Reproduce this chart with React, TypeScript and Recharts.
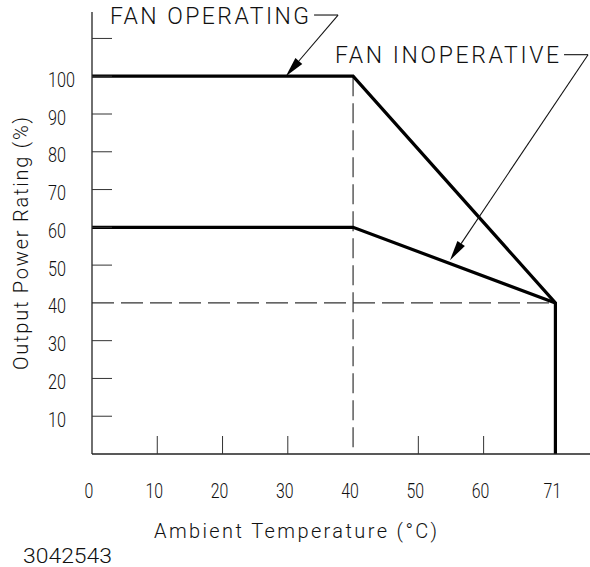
import { Label, Line, LineChart, ReferenceLine, XAxis, YAxis } from "recharts";

// derating curve
const xTicks = [0, 10, 20, 30, 40, 50, 60, 71];
const yTicks = [10, 20, 30, 40, 50, 60, 70, 80, 90, 100, 110];
const yLabelMax = 100;

const operatingTemp = [0, 40, 71, 71];
const operatingPower = [100, 100, 40, 0];
const inoperativeTemp = [0, 40, 71];
const inoperativePower = [60, 60, 40];

const kneeTemp = 40;
const derateLevel = 40;
const maxTemp = 71;

const noteLabels = ["FAN OPERATING", "FAN INOPERATIVE"];
const noteWidths = [199, 224];
const noteElbows = [
  { x: 37.7, y: 116.2 },
  { x: 76, y: 105.7 },
];
const noteTips = [
  { x: 29.7, y: 100 },
  { x: 54.85, y: 51.3 },
];

const operating = operatingTemp.map((t, i) => ({ t, p: operatingPower[i] }));
const inoperative = inoperativeTemp.map((t, i) => ({ t, p: inoperativePower[i] }));

const FONT = "Roboto, 'Liberation Sans', Arial, sans-serif";
const WEIGHT = 300;
const INK = "#111";

function XTick({ x, y, payload }: any) {
  const v = payload.value;
  const s = String(v);
  return (
    <g>
      {v !== 0 && v !== kneeTemp && v !== maxTemp && (
        <line x1={x} y1={y} x2={x} y2={y - 18} stroke="#333" strokeWidth={1} />
      )}
      <text
        x={x - 3}
        y={y + 43.5}
        textAnchor="middle"
        fontSize={20}
        fontFamily={FONT}
        fontWeight={WEIGHT}
        fill={INK}
        textLength={s.length * 8.8}
        lengthAdjust="spacingAndGlyphs"
      >
        {s}
      </text>
    </g>
  );
}

function YTick({ x, y, payload }: any) {
  const v = payload.value;
  const s = String(v);
  return (
    <g>
      {v !== derateLevel && <line x1={x} y1={y} x2={x + 20} y2={y} stroke="#333" strokeWidth={1} />}
      {v <= yLabelMax && (
        <text
          x={x - 44}
          y={y + 10.5}
          textAnchor="start"
          fontSize={20}
          fontFamily={FONT}
          fontWeight={WEIGHT}
          fill={INK}
          textLength={s.length * 9}
          lengthAdjust="spacingAndGlyphs"
        >
          {s}
        </text>
      )}
    </g>
  );
}

function XTitle() {
  return (
    <g fontFamily={FONT} fontWeight={WEIGHT} fill={INK} fontSize={20}>
      <text x={154} y={538} textLength={283} lengthAdjust="spacing">
        Ambient Temperature (°C)
      </text>
      <text x={23} y={563} textLength={89} lengthAdjust="spacingAndGlyphs">
        3042543
      </text>
    </g>
  );
}

function YTitle() {
  return (
    <text
      transform="translate(28,243.5) rotate(-90)"
      textAnchor="middle"
      fontFamily={FONT}
      fontWeight={WEIGHT}
      fill={INK}
      fontSize={20}
      textLength={253}
      lengthAdjust="spacing"
    >
      Output Power Rating (%)
    </text>
  );
}

function leader(label: string, width: number) {
  return (props: any) => {
    const { x1, y1, x2, y2 } = props;
    const dx = x2 - x1;
    const dy = y2 - y1;
    const len = Math.hypot(dx, dy) || 1;
    const ux = dx / len;
    const uy = dy / len;
    const head = 20;
    const half = 4.5;
    const bx = x2 - ux * head;
    const by = y2 - uy * head;
    const textEnd = x1 - 29;
    return (
      <g>
        <text
          x={textEnd}
          y={y1 + 8.5}
          textAnchor="end"
          fontSize={23}
          fontFamily={FONT}
          fontWeight={WEIGHT}
          fill={INK}
          textLength={width}
          lengthAdjust="spacing"
        >
          {label}
        </text>
        <line x1={textEnd + 5} y1={y1} x2={x1} y2={y1} stroke="#111" strokeWidth={1.1} />
        <line x1={x1} y1={y1} x2={bx} y2={by} stroke="#111" strokeWidth={1.1} />
        <polygon
          points={`${x2},${y2} ${bx - uy * half},${by + ux * half} ${bx + uy * half},${by - ux * half}`}
          fill="#000"
        />
      </g>
    );
  };
}

export default function App() {
  return (
    <div style={{ position: "absolute", left: 0, top: 0, width: 590, height: 567, background: "#fff" }}>
      <LineChart width={590} height={567} margin={{ top: 12, right: 0, bottom: 0, left: 0 }}>
        <XAxis
          type="number"
          dataKey="t"
          domain={[0, 76.3]}
          ticks={xTicks}
          interval={0}
          height={113}
          tickSize={0}
          tickMargin={0}
          tickLine={false}
          tick={XTick}
          axisLine={{ stroke: "#222", strokeWidth: 1.3 }}
          allowDataOverflow
        >
          <Label content={XTitle} />
        </XAxis>
        <YAxis
          type="number"
          domain={[0, 117]}
          ticks={yTicks}
          interval={0}
          width={92}
          tickSize={0}
          tickMargin={0}
          tickLine={false}
          tick={YTick}
          axisLine={{ stroke: "#222", strokeWidth: 1.3 }}
          allowDataOverflow
        >
          <Label content={YTitle} />
        </YAxis>

        <ReferenceLine
          segment={[
            { x: kneeTemp, y: 100 },
            { x: kneeTemp, y: 0 },
          ]}
          stroke="#333"
          strokeWidth={1.2}
          strokeDasharray="20 7"
          ifOverflow="visible"
        />
        <ReferenceLine
          segment={[
            { x: 0, y: derateLevel },
            { x: maxTemp, y: derateLevel },
          ]}
          stroke="#333"
          strokeWidth={1.2}
          strokeDasharray="22 7"
          ifOverflow="visible"
        />

        <Line
          data={inoperative}
          dataKey="p"
          type="linear"
          stroke="#000"
          strokeWidth={3.2}
          dot={false}
          activeDot={false}
          isAnimationActive={false}
        />
        <Line
          data={operating}
          dataKey="p"
          type="linear"
          stroke="#000"
          strokeWidth={3.2}
          strokeLinejoin="miter"
          dot={false}
          activeDot={false}
          isAnimationActive={false}
        />

        {noteLabels.map((label, i) => (
          <ReferenceLine
            key={label}
            segment={[noteElbows[i], noteTips[i]]}
            ifOverflow="visible"
            shape={leader(label, noteWidths[i])}
          />
        ))}
      </LineChart>
    </div>
  );
}
